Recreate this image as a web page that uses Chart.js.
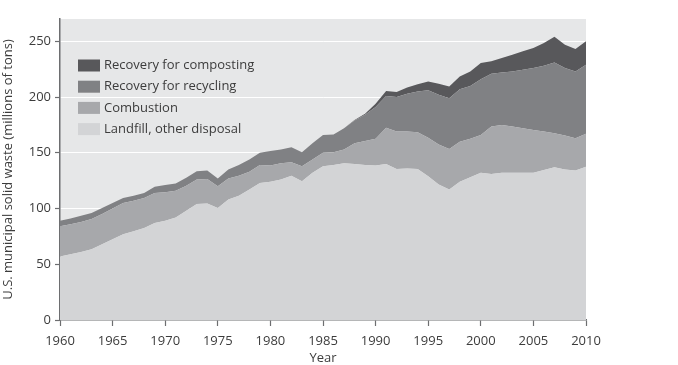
<!DOCTYPE html>
<html>
<head>
<meta charset="utf-8">
<script src="https://cdn.jsdelivr.net/npm/chart.js@4/dist/chart.umd.min.js"></script>
<style>
  html, body { margin: 0; padding: 0; background: #fff; }
  #wrap { width: 678px; height: 365px; }
</style>
</head>
<body>
<div id="wrap"><canvas id="wasteChart" width="678" height="365"></canvas></div>

<script>
// values, millions of tons per year (stacked bottom to top)
var years = [
  1960,1961,1962,1963,1964,1965,1966,1967,1968,1969,
  1970,1971,1972,1973,1974,1975,1976,1977,1978,1979,
  1980,1981,1982,1983,1984,1985,1986,1987,1988,1989,
  1990,1991,1992,1993,1994,1995,1996,1997,1998,1999,
  2000,2001,2002,2003,2004,2005,2006,2007,2008,2009,2010
];
var landfill = [
  57,59,61,63.5,68,72.5,77,79.5,82.5,87,
  89,92,98,104,104.5,100.5,108,111.5,117,123,
  124,126,129.5,124.5,132,138,139,140.5,140,139,
  138.5,140,135.5,136,135.5,129,121.5,117,124,128,
  132,131,132,132,132,132,134.5,137,135,134,137.5
];
var combustion = [
  27,27,27,27,27,27.5,28,27.5,27,27,
  25.5,24,22.5,22,22,19.5,19,18,16,16,
  14.5,14.5,12,13.5,12,12,11.5,12.5,18.5,21.5,
  24,32.5,33.5,33,33,34.5,36,36.5,36,34.5,
  34,42.5,43,41.5,40,38.5,34.5,30.5,30.5,29,29.5
];
var recycling = [
  5,5,5.5,5.5,5.5,5,4.5,4.5,4.5,5.5,
  6.5,6.5,7,7.5,7.5,7,8,9.5,11,11,
  13,12.5,13.5,12.5,14.5,16,16,19,20.5,23.5,
  28.5,28.5,31,34,36.5,42.5,44.5,45.5,47,47.5,
  50,47.5,47,49.5,52.5,55.5,59,63.5,60.5,60,62
];
var composting = [
  0,0,0,0,0,0,0,0,0,0,
  0,0,0,0,0,0,0,0,0,0,
  0,0,0,0,0,0,0,0,0.5,1,
  3,4.5,4.5,5.5,6.5,8,10,10.5,11.5,13,
  14.5,11,13,15,16.5,18,20.5,23,21,20,21
];
var seriesNames = ['Landfill, other disposal', 'Combustion', 'Recovery for recycling', 'Recovery for composting'];
var seriesColors = ['#d3d4d6', '#a7a8ab', '#808184', '#58585b'];
var yTicks = [0, 50, 100, 150, 200, 250];

var textColor = '#3c3c3c';
var fontFamily = "'Open Sans', 'DejaVu Sans', sans-serif";

function toPoints(arr) {
  return arr.map(function (v, i) { return { x: years[i], y: v }; });
}

var allSeries = [landfill, combustion, recycling, composting];
var datasets = allSeries.map(function (arr, i) {
  return {
    label: seriesNames[i],
    data: toPoints(arr),
    backgroundColor: seriesColors[i],
    borderWidth: 0,
    pointRadius: 0,
    tension: 0,
    fill: i === 0 ? 'origin' : '-1'
  };
});

// grey plot background
var plotBg = {
  id: 'plotBg',
  beforeDraw: function (chart) {
    var a = chart.chartArea, ctx = chart.ctx;
    ctx.save();
    ctx.fillStyle = '#e6e7e8';
    ctx.fillRect(a.left, a.top, a.right - a.left, a.bottom - a.top);
    ctx.restore();
  }
};

// legend drawn inside the plot, top series first
var insideLegend = {
  id: 'insideLegend',
  afterDatasetsDraw: function (chart) {
    var ctx = chart.ctx;
    ctx.save();
    ctx.font = '13px ' + fontFamily;
    ctx.textBaseline = 'middle';
    var order = [3, 2, 1, 0];
    order.forEach(function (di, row) {
      var ds = chart.data.datasets[di];
      var cy = 65.5 + row * 21.2;
      ctx.fillStyle = ds.backgroundColor;
      ctx.fillRect(78, cy - 6, 22, 12);
      ctx.fillStyle = textColor;
      ctx.fillText(ds.label, 104, cy);
    });
    ctx.restore();
  }
};

new Chart('wasteChart', {
  type: 'line',
  data: { datasets: datasets },
  plugins: [plotBg, insideLegend],
  options: {
    responsive: false,
    animation: false,
    layout: { padding: { top: 19, right: 92, left: 0, bottom: 0 } },
    plugins: {
      legend: { display: false },
      tooltip: { enabled: false }
    },
    scales: {
      x: {
        type: 'linear',
        min: 1960,
        max: 2010,
        afterFit: function (s) { s.height = 45; },
        ticks: {
          stepSize: 5,
          color: textColor,
          font: { family: fontFamily, size: 13 },
          padding: 7,
          maxRotation: 0,
          callback: function (v) { return String(v); }
        },
        grid: {
          drawOnChartArea: false,
          tickLength: 6,
          tickColor: '#6d6e70',
          tickWidth: 1.2
        },
        border: { color: '#6d6e70', width: 1.5 },
        title: {
          display: true,
          text: 'Year',
          color: textColor,
          font: { family: fontFamily, size: 13 },
          padding: { top: 0, bottom: -1 }
        }
      },
      y: {
        stacked: true,
        min: 0,
        max: 270,
        afterFit: function (s) { s.width = 60; },
        afterBuildTicks: function (s) {
          s.ticks = yTicks.map(function (v) { return { value: v }; });
        },
        ticks: {
          color: textColor,
          font: { family: fontFamily, size: 13 },
          padding: 4
        },
        grid: {
          color: function (c) { return c.tick && c.tick.value === 0 ? 'rgba(0,0,0,0)' : '#ffffff'; },
          lineWidth: 1,
          tickLength: 5,
          tickColor: '#6d6e70',
          tickWidth: 1.2
        },
        border: { color: '#6d6e70', width: 1.5 },
        title: {
          display: true,
          text: 'U.S. municipal solid waste (millions of tons)',
          color: textColor,
          font: { family: fontFamily, size: 13 },
          padding: { top: 0, bottom: 0 }
        }
      }
    }
  }
});
</script>
</body>
</html>
